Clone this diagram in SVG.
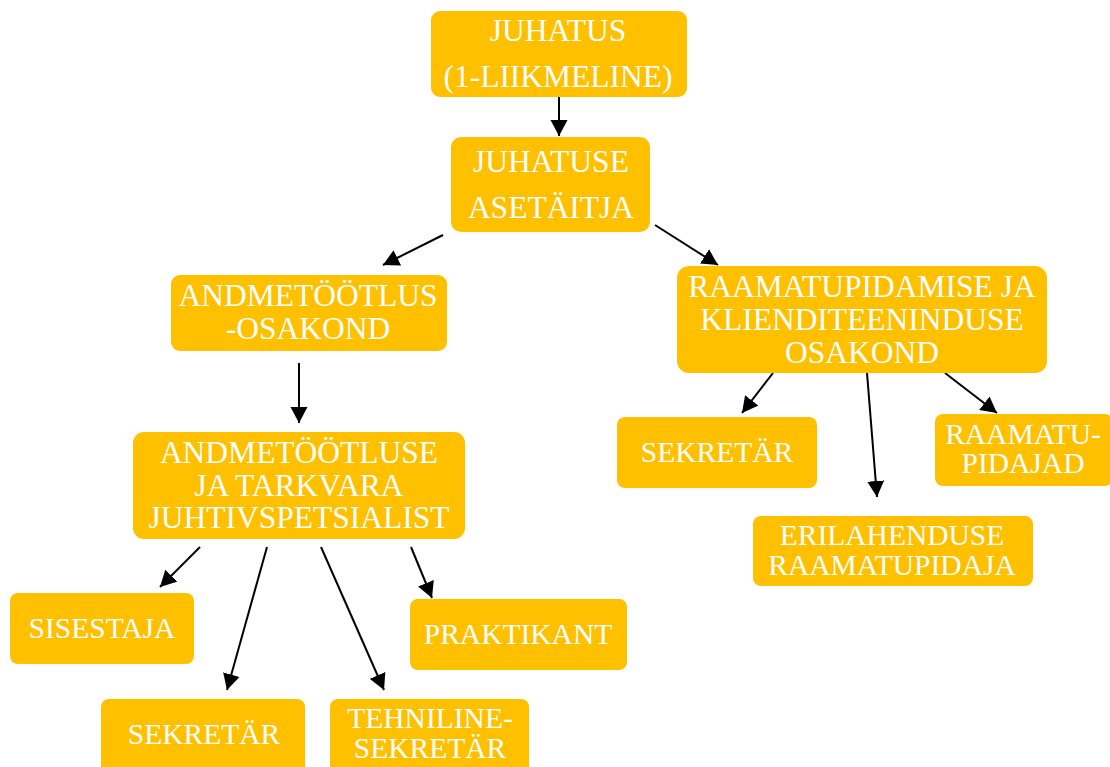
<svg xmlns="http://www.w3.org/2000/svg" width="1110" height="767" viewBox="0 0 1110 767">
<style>
.box{fill:#FFC000;}
.t{font-family:"Liberation Serif","Times New Roman",serif;fill:#FFFFFF;text-anchor:middle;}
.big{font-size:31.5px;}
.small{font-size:29.5px;}
.c{stroke:#000;stroke-width:2;fill:none;marker-end:url(#ah);}
</style>
<defs>
<marker id="ah" markerUnits="userSpaceOnUse" markerWidth="18" markerHeight="18" viewBox="0 0 18 18" refX="16" refY="9" orient="auto">
<path d="M0,0.5 L16,9 L0,17.5 z" fill="#000"/>
</marker>
</defs>
<rect width="1110" height="767" fill="#FFFFFF"/>
<g id="connectors">
<line class="c" x1="559" y1="96" x2="559" y2="136"/>
<line class="c" x1="443" y1="235" x2="383" y2="265"/>
<line class="c" x1="655" y1="225" x2="718" y2="265"/>
<line class="c" x1="299" y1="363" x2="299" y2="423"/>
<line class="c" x1="773" y1="373" x2="742" y2="413"/>
<line class="c" x1="867" y1="373" x2="877" y2="497"/>
<line class="c" x1="945" y1="373" x2="997" y2="413"/>
<line class="c" x1="200" y1="547" x2="160" y2="587"/>
<line class="c" x1="267" y1="547" x2="227" y2="690"/>
<line class="c" x1="321" y1="547" x2="384" y2="690"/>
<line class="c" x1="411" y1="547" x2="432" y2="598"/>
</g>
<g id="juhatus">
<rect class="box" x="431" y="11" width="256" height="86" rx="9"/>
<text class="t big" x="558" y="41">JUHATUS</text>
<text class="t big" x="558" y="87">(1-LIIKMELINE)</text>
</g>
<g id="asetaitja">
<rect class="box" x="451" y="137" width="199" height="95" rx="10"/>
<text class="t big" x="551" y="172">JUHATUSE</text>
<text class="t big" x="551" y="218">ASETÄITJA</text>
</g>
<g id="andmetootlus-osakond">
<rect class="box" x="171" y="275" width="276" height="76" rx="9"/>
<text class="t big" x="308" y="306">ANDMETÖÖTLUS</text>
<text class="t big" x="308" y="339">-OSAKOND</text>
</g>
<g id="juhtivspetsialist">
<rect class="box" x="133" y="432" width="332" height="107" rx="11"/>
<text class="t big" x="299" y="463">ANDMETÖÖTLUSE</text>
<text class="t big" x="299" y="496">JA TARKVARA</text>
<text class="t big" x="299" y="528">JUHTIVSPETSIALIST</text>
</g>
<g id="raamatupidamise-osakond">
<rect class="box" x="677" y="266" width="370" height="107" rx="12"/>
<text class="t big" x="862" y="297">RAAMATUPIDAMISE JA</text>
<text class="t big" x="862" y="330">KLIENDITEENINDUSE</text>
<text class="t big" x="862" y="363">OSAKOND</text>
</g>
<g id="sekretar-r">
<rect class="box" x="617" y="417" width="200" height="71" rx="8"/>
<text class="t small" x="717" y="462">SEKRETÄR</text>
</g>
<g id="raamatupidajad">
<rect class="box" x="935" y="414" width="178" height="72" rx="8"/>
<text class="t small" x="1023" y="444">RAAMATU-</text>
<text class="t small" x="1023" y="473">PIDAJAD</text>
</g>
<g id="erilahenduse">
<rect class="box" x="753" y="516" width="280" height="70" rx="8"/>
<text class="t small" x="892" y="545">ERILAHENDUSE</text>
<text class="t small" x="892" y="575">RAAMATUPIDAJA</text>
</g>
<g id="sisestaja">
<rect class="box" x="10" y="593" width="184" height="71" rx="8"/>
<text class="t small" x="102" y="638">SISESTAJA</text>
</g>
<g id="sekretar-l">
<rect class="box" x="101" y="699" width="204" height="80" rx="8"/>
<text class="t small" x="204" y="744">SEKRETÄR</text>
</g>
<g id="tehniline-sekretar">
<rect class="box" x="330" y="699" width="199" height="80" rx="8"/>
<text class="t small" x="430" y="728">TEHNILINE-</text>
<text class="t small" x="430" y="758">SEKRETÄR</text>
</g>
<g id="praktikant">
<rect class="box" x="410" y="599" width="217" height="71" rx="8"/>
<text class="t small" x="518" y="644">PRAKTIKANT</text>
</g>
</svg>
